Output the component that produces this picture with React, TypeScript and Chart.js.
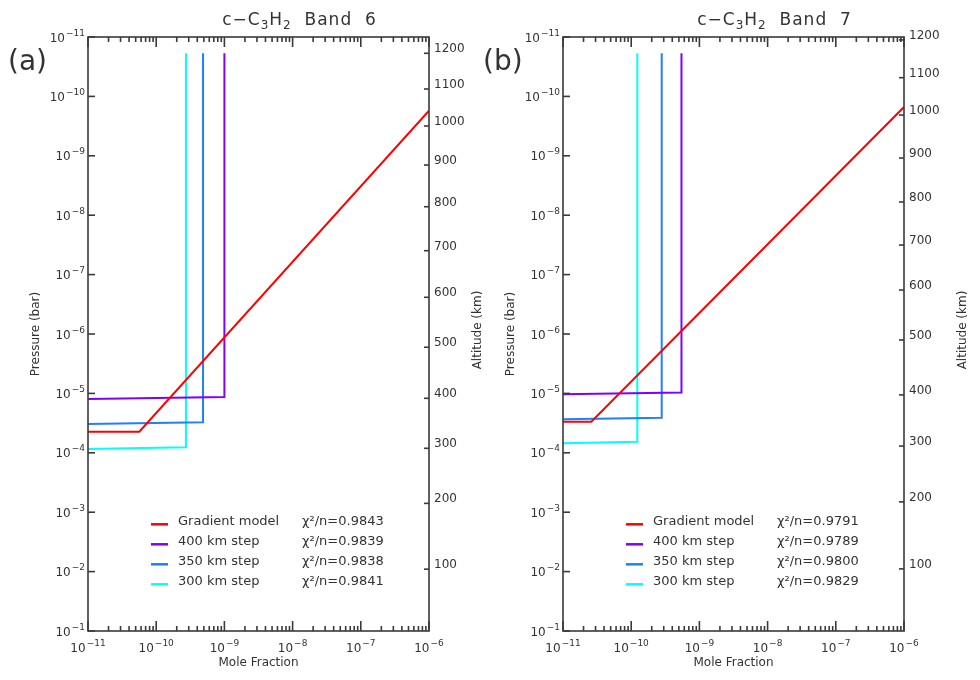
import React, { useEffect, useRef } from 'react';
import { Chart, registerables } from 'chart.js';

Chart.register(...registerables);

// ---------- data ----------
const moleFractionTicks = [1e-11, 1e-10, 1e-9, 1e-8, 1e-7, 1e-6];
const moleFractionTickExponents = ['−11', '−10', '−9', '−8', '−7', '−6'];
const pressureTicks = [1e-11, 1e-10, 1e-9, 1e-8, 1e-7, 1e-6, 1e-5, 1e-4, 1e-3, 1e-2, 1e-1];
const pressureTickExponents = ['−11', '−10', '−9', '−8', '−7', '−6', '−5', '−4', '−3', '−2', '−1'];
const altitudeLabels = ['1200', '1100', '1000', '900', '800', '700', '600', '500', '400', '300', '200', '100'];
// pressure (bar) at which each altitude tick sits
const altitudePressureA = [1.88e-11, 7.5e-11, 3.15e-10, 1.43e-9, 7.2e-9, 3.96e-8, 2.41e-7, 1.67e-6, 1.21e-5, 8.4e-5, 7.1e-4, 9.1e-3];
const altitudePressureB = [1.12e-11, 4.84e-11, 2.06e-10, 1.09e-9, 6.0e-9, 3.18e-8, 1.82e-7, 1.26e-6, 1.06e-5, 7.7e-5, 6.7e-4, 9.0e-3];

const seriesNames = ['Gradient model', '400 km step', '350 km step', '300 km step'];
const seriesColors = ['#ff0000', '#8000ff', '#1f80ff', '#00ffff'];
const chiA = ['0.9843', '0.9839', '0.9838', '0.9841'];
const chiB = ['0.9791', '0.9789', '0.9800', '0.9829'];

// Band 6 (panel a)
const gradientAx = [1e-11, 5.65e-11, 1e-6];
const gradientAp = [4.42e-5, 4.42e-5, 1.74e-10];
const step400Ax = [1e-11, 1.0e-9, 1.0e-9];
const step400Ap = [1.24e-5, 1.15e-5, 1.88e-11];
const step350Ax = [1e-11, 4.86e-10, 4.86e-10];
const step350Ap = [3.27e-5, 3.07e-5, 1.88e-11];
const step300Ax = [1e-11, 2.73e-10, 2.73e-10];
const step300Ap = [8.6e-5, 8.1e-5, 1.88e-11];

// Band 7 (panel b)
const gradientBx = [1e-11, 2.6e-11, 1e-6];
const gradientBp = [3.0e-5, 3.0e-5, 1.51e-10];
const step400Bx = [1e-11, 5.46e-10, 5.46e-10];
const step400Bp = [1.03e-5, 9.7e-6, 1.88e-11];
const step350Bx = [1e-11, 2.8e-10, 2.8e-10];
const step350Bp = [2.73e-5, 2.56e-5, 1.88e-11];
const step300Bx = [1e-11, 1.23e-10, 1.23e-10];
const step300Bp = [6.9e-5, 6.5e-5, 1.88e-11];

// ---------- styling ----------
const FONT = '"DejaVu Sans", sans-serif';
const TEXT = '#333333';
const AXIS = '#3a3a3a';

const toPoints = (xs: number[], ps: number[]) => xs.map((x, i) => ({ x, y: ps[i] }));

type PanelDef = {
  key: string;
  letter: string;
  band: string;
  series: { x: number[]; p: number[] }[];
  chi: string[];
  altP: number[];
  leftW: number;
  rightW: number;
  altTitleDx: number;
};

const panelA: PanelDef = {
  key: 'a',
  letter: '(a)',
  band: '6',
  series: [
    { x: gradientAx, p: gradientAp },
    { x: step400Ax, p: step400Ap },
    { x: step350Ax, p: step350Ap },
    { x: step300Ax, p: step300Ap },
  ],
  chi: chiA,
  altP: altitudePressureA,
  leftW: 88,
  rightW: 71,
  altTitleDx: 49,
};

const panelB: PanelDef = {
  key: 'b',
  letter: '(b)',
  band: '7',
  series: [
    { x: gradientBx, p: gradientBp },
    { x: step400Bx, p: step400Bp },
    { x: step350Bx, p: step350Bp },
    { x: step300Bx, p: step300Bp },
  ],
  chi: chiB,
  altP: altitudePressureB,
  leftW: 93,
  rightW: 76,
  altTitleDx: 59,
};

function makeDecor(panel: PanelDef) {
  return {
    id: 'decor' + panel.key,
    afterDraw(chart: any) {
      const { ctx, chartArea: ca, scales } = chart;
      const xs = scales.x;
      const ys = scales.y;
      const y2 = scales.y2;
      ctx.save();
      ctx.strokeStyle = AXIS;
      ctx.lineWidth = 1.6;
      const seg = (x1: number, yA: number, x2: number, yB: number) => {
        ctx.beginPath();
        ctx.moveTo(x1, yA);
        ctx.lineTo(x2, yB);
        ctx.stroke();
      };
      // x ticks (bottom and top, inward)
      for (const base of moleFractionTicks) {
        for (let m = 1; m <= 9; m++) {
          const v = base * m;
          if (v > xs.max * 1.0001) break;
          const px = xs.getPixelForValue(v);
          const len = m === 1 ? 10 : 5;
          seg(px, ca.bottom, px, ca.bottom - len);
          seg(px, ca.top, px, ca.top + len);
        }
      }
      // left pressure ticks
      for (const v of pressureTicks) {
        const py = ys.getPixelForValue(v);
        seg(ca.left, py, ca.left + 7, py);
      }
      // right altitude ticks
      for (const v of panel.altP) {
        const py = y2.getPixelForValue(v);
        seg(ca.right - 5, py, ca.right, py);
      }
      // frame
      ctx.strokeRect(ca.left, ca.top, ca.right - ca.left, ca.bottom - ca.top);

      ctx.fillStyle = TEXT;
      ctx.textBaseline = 'alphabetic';
      ctx.textAlign = 'left';

      // power-of-ten tick labels
      const drawPow = (exp: string, x: number, baseline: number, align: 'center' | 'right') => {
        ctx.font = `12px ${FONT}`;
        const wb = ctx.measureText('10').width;
        ctx.font = `9px ${FONT}`;
        const we = ctx.measureText(exp).width;
        const w = wb + 1 + we;
        const sx = align === 'center' ? x - w / 2 : x - w;
        ctx.font = `12px ${FONT}`;
        ctx.fillText('10', sx, baseline);
        ctx.font = `9px ${FONT}`;
        ctx.fillText(exp, sx + wb + 1, baseline - 6);
      };
      moleFractionTicks.forEach((v, i) => {
        drawPow(moleFractionTickExponents[i], xs.getPixelForValue(v), ca.bottom + 21, 'center');
      });
      pressureTicks.forEach((v, i) => {
        drawPow(pressureTickExponents[i], ca.left - 3, ys.getPixelForValue(v) + 4.5, 'right');
      });

      // title
      const big = `17px ${FONT}`;
      const small = `12px ${FONT}`;
      const parts: [string, string, number][] = [
        ['c−C', big, 0],
        ['3', small, 4],
        ['H', big, 0],
        ['2', small, 4],
        ['  Band  ' + panel.band, big, 0],
      ];
      try { (ctx as any).letterSpacing = '1px'; } catch (e) {}
      let total = 0;
      for (const [t, f] of parts) { ctx.font = f; total += ctx.measureText(t).width; }
      let tx = (ca.left + ca.right) / 2 + 41 - total / 2;
      for (const [t, f, dy] of parts) {
        ctx.font = f;
        ctx.fillText(t, tx, 25 + dy);
        tx += ctx.measureText(t).width;
      }
      try { (ctx as any).letterSpacing = '0px'; } catch (e) {}

      // panel letter
      ctx.font = `28px ${FONT}`;
      ctx.fillText(panel.letter, ca.left - 80, 70);

      // axis titles
      ctx.font = `12px ${FONT}`;
      ctx.textAlign = 'center';
      ctx.textBaseline = 'middle';
      ctx.fillText('Mole Fraction', (ca.left + ca.right) / 2, 663);

      ctx.save();
      ctx.translate(ca.left - 52, (ca.top + ca.bottom) / 2);
      ctx.rotate(-Math.PI / 2);
      ctx.fillText('Pressure (bar)', 0, 0);
      ctx.restore();

      ctx.save();
      ctx.translate(ca.right + panel.altTitleDx, 330);
      ctx.rotate(-Math.PI / 2);
      ctx.fillText('Altitude (km)', 0, 0);
      ctx.restore();

      // legend
      ctx.font = `13px ${FONT}`;
      ctx.textAlign = 'left';
      ctx.textBaseline = 'middle';
      for (let i = 0; i < seriesNames.length; i++) {
        const ly = ca.top + 487.3 + i * 20;
        ctx.strokeStyle = seriesColors[i];
        ctx.lineWidth = 2.5;
        seg(ca.left + 63, ly, ca.left + 80, ly);
        ctx.fillStyle = TEXT;
        ctx.fillText(seriesNames[i], ca.left + 90, ly - 2.5);
        ctx.fillText('χ²/n=' + panel.chi[i], ca.left + 214, ly - 2.5);
      }
      ctx.restore();
    },
  };
}

function makeConfig(panel: PanelDef): any {
  const tickFont = { family: FONT, size: 12 };
  return {
    type: 'line',
    data: {
      datasets: panel.series.map((s, i) => ({
        label: seriesNames[i],
        data: toPoints(s.x, s.p),
        borderColor: seriesColors[i],
        backgroundColor: seriesColors[i],
        borderWidth: 2,
        pointRadius: 0,
        fill: false,
        tension: 0,
      })),
    },
    options: {
      animation: false,
      responsive: false,
      maintainAspectRatio: false,
      devicePixelRatio: 1,
      layout: { padding: { top: 37, left: 0, right: 0, bottom: 0 } },
      plugins: {
        legend: { display: false },
        tooltip: { enabled: false },
        title: { display: false },
      },
      scales: {
        x: {
          type: 'logarithmic',
          position: 'bottom',
          min: 1e-11,
          max: 1e-6,
          grid: { display: false, drawTicks: false },
          border: { display: false },
          afterBuildTicks: (s: any) => { s.ticks = moleFractionTicks.map((v) => ({ value: v })); },
          afterFit: (s: any) => { s.height = 49; },
          ticks: { display: false },
        },
        y: {
          type: 'logarithmic',
          position: 'left',
          min: 1e-11,
          max: 1e-1,
          reverse: true,
          grid: { display: false, drawTicks: false },
          border: { display: false },
          afterBuildTicks: (s: any) => { s.ticks = pressureTicks.map((v) => ({ value: v })); },
          afterFit: (s: any) => { s.width = panel.leftW; },
          ticks: { display: false },
        },
        y2: {
          type: 'logarithmic',
          position: 'right',
          min: 1e-11,
          max: 1e-1,
          reverse: true,
          grid: { display: false, drawTicks: false },
          border: { display: false },
          afterBuildTicks: (s: any) => { s.ticks = panel.altP.map((v) => ({ value: v })); },
          afterFit: (s: any) => { s.width = panel.rightW; },
          ticks: {
            callback: (_v: any, i: number) => altitudeLabels[i],
            autoSkip: false,
            padding: 5,
            labelOffset: -4,
            font: tickFont,
            color: TEXT,
          },
        },
      },
    },
    plugins: [makeDecor(panel)],
  };
}

function Panel({ panel, left, width }: { panel: PanelDef; left: number; width: number }) {
  const ref = useRef<HTMLCanvasElement>(null);
  useEffect(() => {
    const chart = new Chart(ref.current as HTMLCanvasElement, makeConfig(panel));
    return () => chart.destroy();
  }, [panel]);
  return (
    <canvas
      ref={ref}
      width={width}
      height={680}
      style={{ position: 'absolute', left, top: 0, width, height: 680 }}
    />
  );
}

export default function App() {
  return (
    <div style={{ position: 'absolute', left: 0, top: 0, width: 980, height: 680, background: '#ffffff', overflow: 'hidden' }}>
      <Panel panel={panelA} left={0} width={500} />
      <Panel panel={panelB} left={470} width={510} />
    </div>
  );
}
